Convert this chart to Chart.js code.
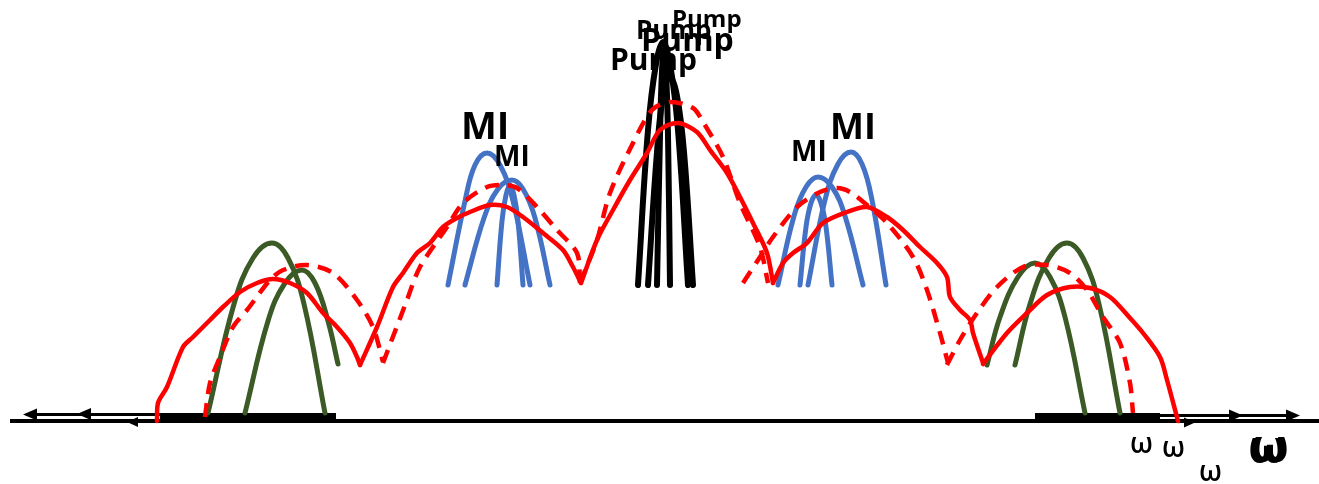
<!DOCTYPE html>
<html><head><meta charset="utf-8">
<script src="https://cdn.jsdelivr.net/npm/chart.js@4/dist/chart.umd.min.js"></script>
<style>html,body{margin:0;padding:0;background:#fff;overflow:hidden}#wrap{width:1319px;height:484px;position:relative}</style>
</head><body><div id="wrap"><canvas id="c"></canvas></div>
<script>
// ---- data: frequency (x) vs. spectral amplitude (y) ----
const pumpA = [[638,136],[648,291],[656,357],[663,379],[670,357],[678,291],[688,136]];
const pumpB = [[648,136],[657,269],[663,325],[670,344],[677,325],[684,269],[693,136]];
const pumpC = [[657,136],[660,286],[662,350],[664,371],[666,350],[668,286],[670,136]];

const miL1 = [[448,136],[465,220],[475,256],[487,268],[500,256],[513,220],[530,136]];
const miL2 = [[465,136],[484,203],[498,232],[512,241],[523,232],[535,203],[550,136]];
const miL3 = [[497,136],[502,200],[506,226],[510,236],[514,226],[518,200],[523,136]];
const miR1 = [[778,136],[794,205],[806,234],[818,244],[832,234],[845,205],[863,136]];
const miR2 = [[808,136],[825,221],[838,257],[851,269],[862,257],[872,221],[886,136]];
const miR3 = [[800,136],[806,194],[811,218],[816,226],[821,218],[826,194],[832,136]];

const greenL1 = [[208,8],[234,117],[253,163],[272,178],[288,163],[304,117],[325,8]];
const greenL2 = [[245,8],[268,100],[285,138],[302,151],[315,138],[328,100],[338,57]];
const greenR1 = [[987,56],[1000,104],[1018,144],[1035,158],[1050,144],[1065,104],[1085,8]];
const greenR2 = [[1015,56],[1030,117],[1049,163],[1067,178],[1083,163],[1099,117],[1120,8]];

const redSolid1 = [[157,0],[158,18],[167,34],[183,74],[193,84],[210,101],[223,114],[240,129],[257,138],[273,142],[290,138],[307,128],[323,108],[337,94],[350,78],[357,64],[360,56]];
const redSolid2 = [[360,56],[377,94],[393,134],[403,148],[417,168],[430,178],[443,194],[457,203],[470,209],[490,216],[507,214],[523,204],[543,188],[563,171],[573,154],[581,138]];
const redSolid3 = [[581,138],[597,181],[613,211],[630,241],[647,268],[660,291],[678,298],[697,289],[710,271],[727,248],[740,224],[753,198],[767,168],[773,138]];
const redSolid4 = [[773,138],[783,158],[793,168],[807,178],[823,198],[847,209],[867,214],[887,204],[903,191],[920,174],[937,158],[947,144],[950,124],[960,111],[970,101],[973,88],[983,58]];
const redSolid5 = [[983,57],[1007,88],[1027,108],[1047,126],[1070,134],[1090,133],[1110,124],[1130,103],[1143,88],[1160,64],[1167,41],[1178,0]];

const redDash1 = [[205,4],[210,38],[220,64],[233,94],[247,111],[270,141],[283,151],[307,156],[333,148],[357,121],[373,94],[383,59]];
const redDash2 = [[383,58],[407,121],[420,154],[447,194],[463,218],[487,234],[503,236],[517,233],[537,214],[557,191],[577,168],[580,138]];
const redDash3 = [[580,138],[597,181],[610,228],[632,276],[652,311],[670,319],[693,313],[703,299],[723,264],[740,218],[760,174],[768,138]];
const redDash4 = [[743,138],[760,164],[773,184],[797,214],[820,229],[837,233],[850,229],[867,216],[887,198],[913,164],[927,131],[940,88],[948,58]];
const redDash5 = [[947,56],[960,81],[977,108],[997,134],[1023,154],[1047,156],[1070,148],[1087,131],[1103,104],[1120,78],[1130,38],[1133,8]];

// spectral bands on the frequency axis
const bands = [[160,336],[1035,1160]];
const bandHeight = 8;

// text annotations
const labelText = ['Pump','Pump','Pump','Pump','MI','MI','MI','MI','\u03c9','\u03c9','\u03c9','\u03c9','\u03c9'];
const labelX    = [610, 641, 636, 672, 461, 494, 791, 830, 1130, 1162, 1199, 1248, 1251];
const labelY    = [351, 370, 382, 394, 282, 255, 260, 282, -32, -36, -60, -42, -41];
</script>
<script>
const toPts = a => a.map(([x,y]) => ({x, y}));
const datasets = [];
function add(arr, color, width, order, tension, dash){
  datasets.push({data: toPts(arr), showLine: true, borderColor: color, backgroundColor: color,
    borderWidth: width, pointRadius: 0, pointHoverRadius: 0, tension: tension, fill: false,
    borderDash: dash || [], borderCapStyle: dash ? 'butt' : 'round', borderJoinStyle: 'round',
    order: order, clip: false});
}
const BLUE = '#4472C4', GREEN = '#3B5A26', RED = '#FF0000', BLACK = '#000000';
[greenL1, greenL2, greenR1, greenR2].forEach(a => add(a, GREEN, 5, 4, 0.4));
[miL1, miL2, miL3, miR1, miR2, miR3].forEach(a => add(a, BLUE, 5, 3, 0.4));
[pumpA, pumpB, pumpC].forEach(a => add(a, BLACK, 6, 2, 0.4));
[redSolid1, redSolid2, redSolid3, redSolid4, redSolid5].forEach(a => add(a, RED, 4.5, 1, 0.3));
[redDash1, redDash2, redDash3, redDash4, redDash5].forEach(a => add(a, RED, 4.5, 1, 0.3, [14, 9]));

const axisPlugin = {
  id: 'axisDecor',
  beforeDatasetsDraw(chart){
    const {ctx, scales: {x, y}} = chart;
    const px = v => x.getPixelForValue(v), py = v => y.getPixelForValue(v);
    ctx.save();
    ctx.fillStyle = '#000'; ctx.strokeStyle = '#000';
    bands.forEach(([a, b]) => ctx.fillRect(px(a), py(bandHeight), px(b) - px(a), py(0) - py(bandHeight) + 1));
    ctx.lineWidth = 4;
    ctx.beginPath(); ctx.moveTo(px(10), py(0)); ctx.lineTo(px(1319), py(0)); ctx.stroke();
    function head(tx, ty, dir, len, half){
      ctx.beginPath(); ctx.moveTo(tx, ty); ctx.lineTo(tx - dir*len, ty - half); ctx.lineTo(tx - dir*len, ty + half); ctx.closePath(); ctx.fill();
    }
    ctx.lineWidth = 3;
    ctx.beginPath(); ctx.moveTo(px(26), py(6.5)); ctx.lineTo(px(160), py(6.5)); ctx.stroke();
    head(px(23), py(6.5), -1, 14, 6);
    head(px(77), py(7), -1, 14, 6);
    head(px(127), py(-1), -1, 11, 5);
    ctx.beginPath(); ctx.moveTo(px(1157), py(5.5)); ctx.lineTo(px(1296), py(5.5)); ctx.stroke();
    head(px(1243), py(5.5), 1, 14, 6);
    head(px(1300), py(5.5), 1, 14, 6);
    head(px(1195), py(-1.5), 1, 11, 5);
    ctx.restore();
  }
};
const labelSize   = [30, 32, 26, 24, 38, 28, 28, 36, 28, 28, 28, 44, 44];
const labelWeight = [700, 700, 700, 700, 700, 700, 700, 700, 600, 600, 600, 700, 700];
const labelPlugin = {
  id: 'labelsText',
  afterDatasetsDraw(chart){
    const {ctx, scales: {x, y}} = chart;
    ctx.save(); ctx.fillStyle = '#000'; ctx.textAlign = 'left'; ctx.textBaseline = 'alphabetic';
    labelText.forEach((t, i) => {
      ctx.font = labelWeight[i] + ' ' + labelSize[i] + 'px "Open Sans", "DejaVu Sans", sans-serif';
      ctx.fillText(t, x.getPixelForValue(labelX[i]), y.getPixelForValue(labelY[i]));
    });
    ctx.restore();
  }
};

new Chart(document.getElementById('c'), {
  type: 'scatter',
  data: {datasets},
  options: {
    responsive: true, maintainAspectRatio: false, animation: false,
    layout: {padding: 0},
    events: [],
    scales: {
      x: {type: 'linear', min: 0, max: 1319, display: false},
      y: {type: 'linear', min: -63, max: 421, display: false}
    },
    plugins: {legend: {display: false}, tooltip: {enabled: false}}
  },
  plugins: [axisPlugin, labelPlugin]
});
</script>
</body></html>
